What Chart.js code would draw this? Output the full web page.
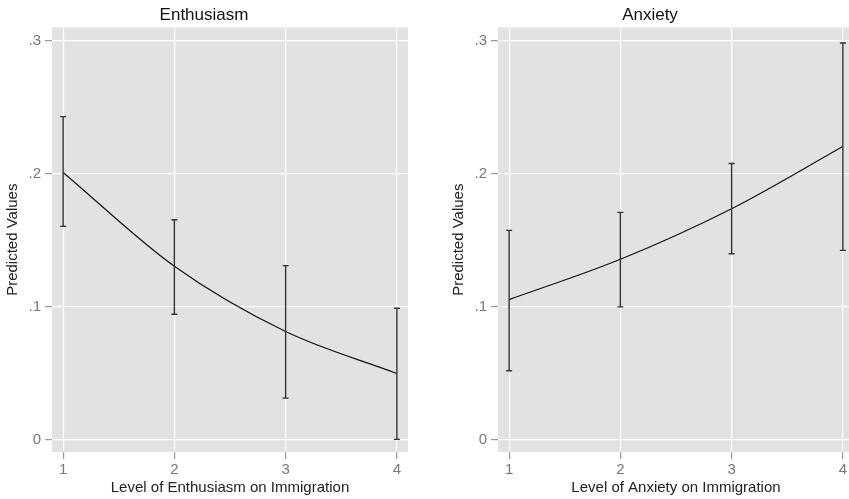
<!DOCTYPE html>
<html>
<head>
<meta charset="utf-8">
<script src="https://cdn.jsdelivr.net/npm/chart.js@4.4.0/dist/chart.umd.min.js"></script>
<style>
  html, body { margin: 0; padding: 0; background: #fff; overflow: hidden; width: 849px; height: 499px; }
  canvas { position: absolute; top: 0; }
  #left { left: 0; }
  #right { left: 446px; }
</style>
</head>
<body>
<canvas id="left" width="424" height="499"></canvas>
<canvas id="right" width="424" height="499"></canvas>
<script>
// values
const levels = [1, 2, 3, 4];

const enthusiasmFit = [0.201, 0.1305, 0.0815, 0.050];
const enthusiasmLo  = [0.1605, 0.0945, 0.0315, 0.0005];
const enthusiasmHi  = [0.243, 0.1655, 0.131, 0.099];

const anxietyFit = [0.1055, 0.1358, 0.1738, 0.2205];
const anxietyLo  = [0.052, 0.100, 0.140, 0.1425];
const anxietyHi  = [0.1575, 0.171, 0.2078, 0.2983];

const yTicks = [0, 0.1, 0.2, 0.3];
const yTickLabels = ['0', '.1', '.2', '.3'];
const xTicks = [1, 2, 3, 4];

const font = "'Liberation Sans', Arial, Helvetica, sans-serif";

// grey plot region
const plotBg = {
    id: 'plotBg',
    beforeDraw(chart) {
        const a = chart.chartArea;
        const c = chart.ctx;
        c.save();
        c.fillStyle = '#e2e2e4';
        c.fillRect(a.left, a.top, a.right - a.left, a.bottom - a.top);
        c.restore();
    }
};

function makeChart(id, title, xTitle, fit, lo, hi) {
    let datasets = [];
    // error bars, one small dataset each, caps drawn as line points
    levels.forEach((lv, i) => {
        datasets.push({
            data: [{x: lv, y: lo[i]}, {x: lv, y: hi[i]}],
            borderColor: '#333',
            borderWidth: 1.4,
            pointStyle: 'line',
            pointRadius: 3,
            pointBorderColor: '#333',
            pointBorderWidth: 1.4,
            showLine: true,
        });
    });
    datasets.push({
        data: levels.map((lv, i) => ({x: lv, y: fit[i]})),
        borderColor: '#111',
        borderWidth: 1.2,
        pointRadius: 0,
        showLine: true,
        cubicInterpolationMode: 'monotone',
    });

    return new Chart(document.getElementById(id), {
        type: 'scatter',
        data: { datasets: datasets },
        plugins: [plotBg],
        options: {
            responsive: false,
            animation: false,
            devicePixelRatio: 1,
            layout: { padding: { right: 16 } },
            plugins: {
                legend: { display: false },
                tooltip: { enabled: false },
                title: {
                    display: true,
                    text: title,
                    color: '#111',
                    font: { family: font, size: 17, weight: 'normal', lineHeight: 1.2 },
                    padding: { top: 5, bottom: 2 },
                },
            },
            scales: {
                x: {
                    type: 'linear',
                    min: 0.9,
                    max: 4.1,
                    afterBuildTicks: (s) => { s.ticks = xTicks.map(v => ({value: v})); },
                    afterFit: (s) => { s.height = 47; },
                    ticks: {
                        color: '#777',
                        padding: 2,
                        font: { family: font, size: 15 },
                        callback: (v) => String(v),
                    },
                    grid: { color: '#ffffff', lineWidth: 1.2, tickColor: '#999', tickLength: 7 },
                    border: { display: false },
                    title: {
                        display: true,
                        text: xTitle,
                        color: '#222',
                        font: { family: font, size: 15, lineHeight: 1.2 },
                        padding: { top: 0, bottom: 2 },
                    },
                },
                y: {
                    min: -0.009,
                    max: 0.31,
                    afterBuildTicks: (s) => { s.ticks = yTicks.map(v => ({value: v})); },
                    afterFit: (s) => { s.width = 52; },
                    ticks: {
                        color: '#777',
                        padding: 4,
                        font: { family: font, size: 15 },
                        callback: (v) => {
                            const k = yTicks.findIndex(t => Math.abs(t - v) < 1e-9);
                            return k >= 0 ? yTickLabels[k] : '';
                        },
                    },
                    grid: { color: '#ffffff', lineWidth: 1.2, tickColor: '#999', tickLength: 7 },
                    border: { display: false },
                    title: {
                        display: true,
                        text: 'Predicted Values',
                        color: '#222',
                        font: { family: font, size: 15, lineHeight: 1.2 },
                        padding: { top: 4, bottom: 0 },
                    },
                },
            },
        },
    });
}

makeChart('left', 'Enthusiasm', 'Level of Enthusiasm on Immigration', enthusiasmFit, enthusiasmLo, enthusiasmHi);
makeChart('right', 'Anxiety', 'Level of Anxiety on Immigration', anxietyFit, anxietyLo, anxietyHi);
</script>
</body>
</html>
